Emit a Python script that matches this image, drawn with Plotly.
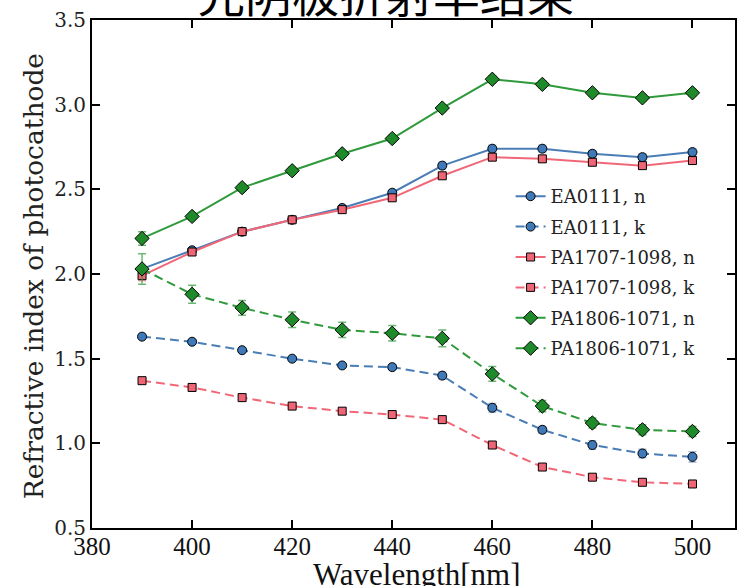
import plotly.graph_objects as go

# Wavelength grid (nm)
wavelength = [390, 400, 410, 420, 430, 440, 450, 460, 470, 480, 490, 500]

# EA0111
ea_n = [2.03, 2.14, 2.25, 2.32, 2.39, 2.48, 2.64, 2.74, 2.74, 2.71, 2.69, 2.72]
ea_n_err = [0.015, 0.015, 0.015, 0.015, 0.015, 0.015, 0.02, 0.02, 0.02, 0.02, 0.02, 0.02]
ea_k = [1.63, 1.60, 1.55, 1.50, 1.46, 1.45, 1.40, 1.21, 1.08, 0.99, 0.94, 0.92]
ea_k_err = [0.012, 0.012, 0.012, 0.012, 0.012, 0.015, 0.02, 0.025, 0.02, 0.025, 0.025, 0.03]

# PA1707-1098
pa07_n = [1.99, 2.13, 2.25, 2.32, 2.38, 2.45, 2.58, 2.69, 2.68, 2.66, 2.64, 2.67]
pa07_n_err = [0.03, 0.015, 0.015, 0.015, 0.015, 0.015, 0.015, 0.015, 0.015, 0.015, 0.015, 0.015]
pa07_k = [1.37, 1.33, 1.27, 1.22, 1.19, 1.17, 1.14, 0.99, 0.86, 0.80, 0.77, 0.76]
pa07_k_err = [0.01, 0.01, 0.01, 0.01, 0.01, 0.01, 0.01, 0.01, 0.01, 0.01, 0.01, 0.01]

# PA1806-1071
pa18_n = [2.21, 2.34, 2.51, 2.61, 2.71, 2.80, 2.98, 3.15, 3.12, 3.07, 3.04, 3.07]
pa18_n_err = [0.04, 0.02, 0.02, 0.02, 0.02, 0.02, 0.02, 0.02, 0.02, 0.02, 0.02, 0.02]
pa18_k = [2.03, 1.88, 1.80, 1.73, 1.67, 1.65, 1.62, 1.41, 1.22, 1.12, 1.08, 1.07]
pa18_k_err = [0.09, 0.053, 0.044, 0.046, 0.045, 0.046, 0.05, 0.044, 0.033, 0.03, 0.03, 0.03]

x_ticks = [380, 400, 420, 440, 460, 480, 500]
y_ticks = [0.5, 1.0, 1.5, 2.0, 2.5, 3.0, 3.5]

BLUE, BLUE_FILL, BLUE_ERR = "#4a7db5", "#3f79b8", "rgba(74,125,181,0.55)"
RED, RED_FILL, RED_ERR = "#f06878", "#ee6676", "rgba(240,104,120,0.55)"
GREEN, GREEN_FILL, GREEN_ERR = "#2f9a3b", "#1f8a2a", "rgba(47,154,59,0.7)"

DASH = "9px,5px"

series = [
    ("EA0111, n", ea_n, ea_n_err, BLUE, BLUE_FILL, BLUE_ERR, "circle", 9, "solid"),
    ("EA0111, k", ea_k, ea_k_err, BLUE, BLUE_FILL, BLUE_ERR, "circle", 9, DASH),
    ("PA1707-1098, n", pa07_n, pa07_n_err, RED, RED_FILL, RED_ERR, "square", 8, "solid"),
    ("PA1707-1098, k", pa07_k, pa07_k_err, RED, RED_FILL, RED_ERR, "square", 8, DASH),
    ("PA1806-1071, n", pa18_n, pa18_n_err, GREEN, GREEN_FILL, GREEN_ERR, "diamond", 11, "solid"),
    ("PA1806-1071, k", pa18_k, pa18_k_err, GREEN, GREEN_FILL, GREEN_ERR, "diamond", 11, DASH),
]

fig = go.Figure()
for i, (name, vals, errs, lc, fc, ec, sym, size, dash) in enumerate(series):
    fig.add_trace(go.Scatter(
        x=wavelength, y=vals, name=name, mode="lines+markers",
        legendgroup=f"g{i}",
        line=dict(color=lc, width=2, dash=dash),
        marker=dict(symbol=sym, size=size, color=fc,
                    line=dict(color="black", width=1)),
        error_y=dict(type="data", array=errs, visible=True,
                     color=ec, thickness=1.5, width=4),
    ))

serif = "DejaVu Serif"
times = "Liberation Serif"

axis_common = dict(
    showline=True, linecolor="black", linewidth=2,
    ticks="inside", ticklen=8, tickwidth=1.5, tickcolor="black",
    mirror="allticks", showgrid=False, zeroline=False,
)

fig.update_layout(
    width=737, height=586,
    margin=dict(l=92, r=0, t=20, b=58),
    paper_bgcolor="white", plot_bgcolor="white",
    showlegend=True,
    legend=dict(
        x=0.651, y=0.689, xanchor="left", yanchor="top",
        bgcolor="rgba(0,0,0,0)", borderwidth=0,
        font=dict(family=serif, size=18, color="#222"),
        tracegroupgap=4, traceorder="grouped",
    ),
    xaxis=dict(
        range=[380, 508.5], tickvals=x_ticks,
        tickfont=dict(family=times, size=25, color="#111"),
        ticklabelstandoff=-5,
        **axis_common,
    ),
    yaxis=dict(
        range=[0.5, 3.5], tickvals=y_ticks, tickformat=".1f",
        tickfont=dict(family=serif, size=20, color="#222"),
        **axis_common,
    ),
    annotations=[
        dict(text="Wavelength[nm]", xref="paper", yref="paper",
             x=0.506, y=-0.091, xanchor="center", yanchor="middle",
             showarrow=False, font=dict(family=times, size=31, color="#111")),
        dict(text="Refractive index of photocathode", xref="paper", yref="paper",
             x=-0.0915, y=0.496, xanchor="center", yanchor="middle",
             textangle=-90, showarrow=False,
             font=dict(family=serif, size=26.5, color="#222")),
        dict(text="光阴极折射率结果", xref="paper", yref="paper",
             x=0.457, y=0.985, xanchor="center", yanchor="bottom",
             showarrow=False,
             font=dict(family="Noto Sans CJK SC", size=47, color="black")),
    ],
)

fig.write_html("out.html")
